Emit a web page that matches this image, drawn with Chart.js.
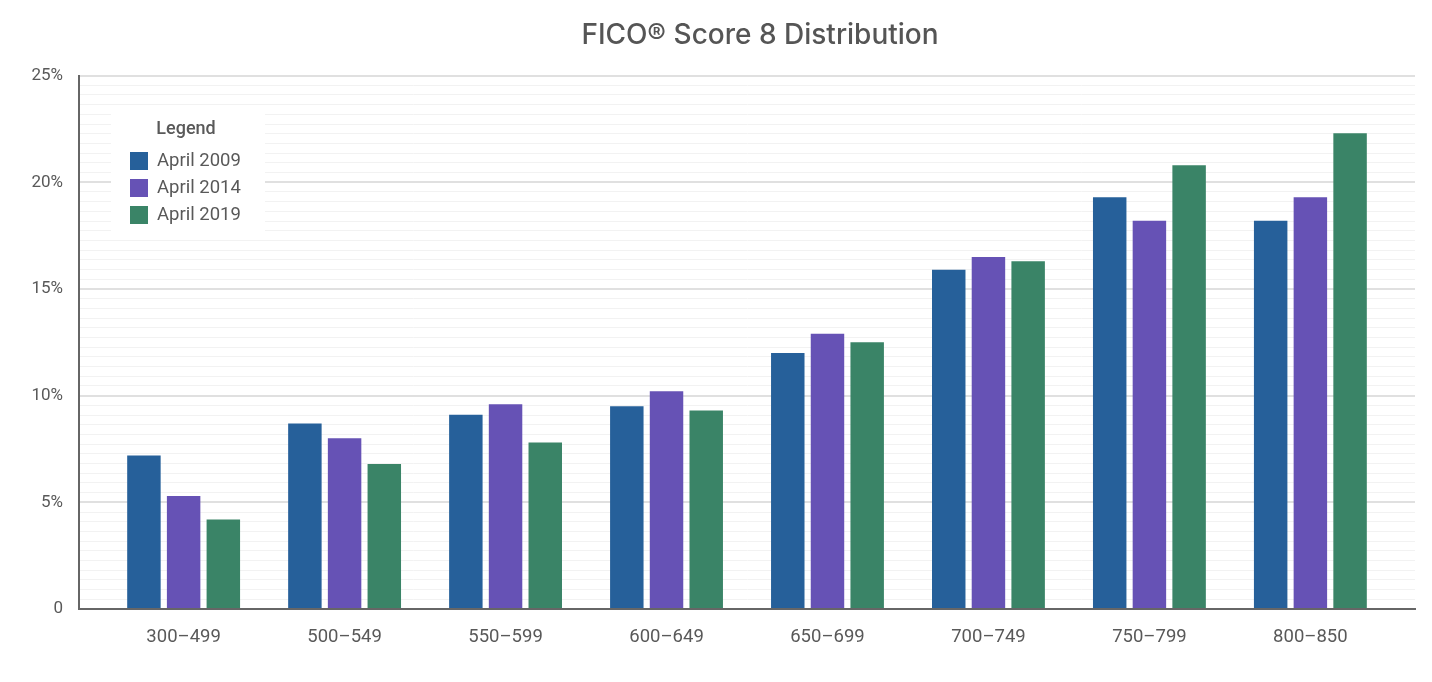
<!DOCTYPE html>
<html>
<head>
<meta charset="utf-8">
<script src="https://cdn.jsdelivr.net/npm/chart.js@4"></script>
<style>
  html, body { margin: 0; padding: 0; background: #ffffff; }
  #wrap { width: 1432px; height: 682px; }
</style>
</head>
<body>
<div id="wrap"><canvas id="c"></canvas></div>
<script>
const titleText = 'FICO® Score 8 Distribution';
const categories = ['300–499', '500–549', '550–599', '600–649', '650–699', '700–749', '750–799', '800–850'];
const seriesNames = ['April 2009', 'April 2014', 'April 2019'];
const april2009 = [7.2, 8.7, 9.1, 9.5, 12.0, 15.9, 19.3, 18.2];
const april2014 = [5.3, 8.0, 9.6, 10.2, 12.9, 16.5, 18.2, 19.3];
const april2019 = [4.2, 6.8, 7.8, 9.3, 12.5, 16.3, 20.8, 22.3];
const yTickValues = [0, 5, 10, 15, 20, 25];
const yTickLabels = ['0', '5%', '10%', '15%', '20%', '25%'];
const legendTitle = 'Legend';

const colors = ['#26609a', '#6652b5', '#3a8467'];
const seriesValues = [april2009, april2014, april2019];
const textColor = '#595959';
const FONT = 'Roboto, "Noto Sans", sans-serif';

function isMajor(v) {
  return yTickValues.some(t => Math.abs(t - v) < 1e-6);
}

const titleShift = {
  id: 'titleShift',
  afterLayout(chart) {
    const tb = chart.titleBlock;
    if (tb) { tb.left = 105; tb.right = 1415; }
  }
};

const legendPlugin = {
  id: 'boxLegend',
  afterDatasetsDraw(chart) {
    const ctx = chart.ctx;
    ctx.save();
    ctx.fillStyle = '#ffffff';
    ctx.fillRect(111, 110, 154, 124);
    ctx.fillStyle = textColor;
    ctx.textBaseline = 'middle';
    ctx.textAlign = 'center';
    ctx.font = '500 18px ' + FONT;
    ctx.fillText(legendTitle, 186, 129);
    ctx.textAlign = 'left';
    ctx.font = '18.5px ' + FONT;
    chart.data.datasets.forEach((ds, i) => {
      const y = 161 + i * 27;
      ctx.fillStyle = ds.backgroundColor;
      ctx.fillRect(130, y - 9, 18, 18);
      ctx.fillStyle = textColor;
      ctx.fillText(ds.label, 157, y);
    });
    ctx.restore();
  }
};

new Chart(document.getElementById('c'), {
  type: 'bar',
  data: {
    datasets: seriesNames.map((name, s) => ({
      label: name,
      data: seriesValues[s].map((v, i) => ({ x: i, y: v })),
      backgroundColor: colors[s],
      borderWidth: 0,
      categoryPercentage: 0.74,
      barPercentage: 0.843
    }))
  },
  options: {
    responsive: true,
    maintainAspectRatio: false,
    animation: false,
    layout: { padding: { left: 0, right: 17, top: 0, bottom: 0 } },
    plugins: {
      legend: { display: false },
      tooltip: { enabled: false },
      title: {
        display: true,
        text: titleText,
        color: '#555555',
        fullSize: false,
        font: { family: 'Inter, ' + FONT, size: 28, weight: '500' },
        padding: { top: 19, bottom: 23 }
      }
    },
    scales: {
      x: {
        type: 'linear',
        min: -0.65,
        max: 7.65,
        offset: false,
        grid: { display: false, offset: false },
        border: { display: true, color: '#666666', width: 2 },
        afterBuildTicks(scale) {
          scale.ticks = categories.map((c, i) => ({ value: i }));
        },
        afterFit(scale) { scale.height = 73; },
        ticks: {
          autoSkip: false,
          maxRotation: 0,
          padding: 9,
          color: textColor,
          font: { family: FONT, size: 18.5 },
          callback: (v) => categories[v]
        }
      },
      y: {
        min: 0,
        max: 25,
        afterBuildTicks(scale) {
          const t = [];
          for (let i = 0; i < yTickValues.length - 1; i++) {
            const a = yTickValues[i], b = yTickValues[i + 1];
            for (let j = 0; j < 11; j++) t.push({ value: a + (b - a) * j / 11 });
          }
          t.push({ value: yTickValues[yTickValues.length - 1] });
          scale.ticks = t;
        },
        afterFit(scale) { scale.width = 79; },
        border: { display: true, color: '#666666', width: 2 },
        grid: {
          drawTicks: false,
          color: (ctx) => isMajor(ctx.tick.value) ? '#e0e0e0' : '#f2f2f2',
          lineWidth: (ctx) => isMajor(ctx.tick.value) ? 2 : 1
        },
        ticks: {
          autoSkip: false,
          padding: 16,
          color: textColor,
          font: { family: FONT, size: 17 },
          callback: (v) => {
            const k = yTickValues.findIndex(t => Math.abs(t - v) < 1e-6);
            return k >= 0 ? yTickLabels[k] : '';
          }
        }
      }
    }
  },
  plugins: [titleShift, legendPlugin]
});
</script>
</body>
</html>
